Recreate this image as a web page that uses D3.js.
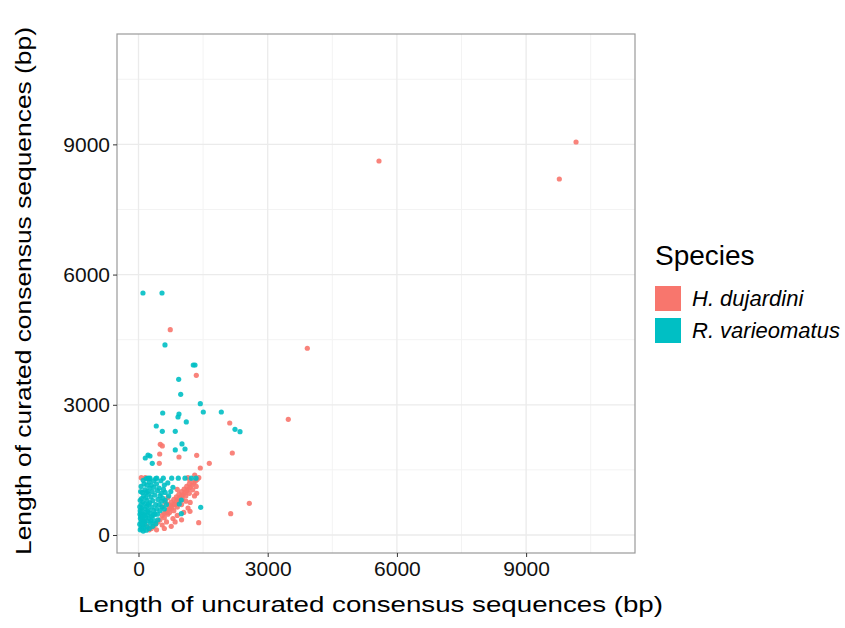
<!DOCTYPE html>
<html><head><meta charset="utf-8">
<script src="https://cdn.jsdelivr.net/npm/d3@7"></script>
<style>body{margin:0;background:#fff;}svg{display:block;font-family:"Liberation Sans",Arial,sans-serif;}</style>
</head><body><svg id="c" width="845" height="628"></svg>
<script>
const speciesNames = ["H. dujardini", "R. varieomatus"];
const speciesColors = ["#F8766D", "#00BFC4"];
const xTicks = [0, 3000, 6000, 9000];
const yTicks = [0, 3000, 6000, 9000];
const minorTicks = [1500, 4500, 7500, 10500];
const xTitle = "Length of uncurated consensus sequences (bp)";
const yTitle = "Length of curated consensus sequences (bp)";
const legendTitle = "Species";

// H. dujardini: [uncurated length, curated length]
const hDujardini = [
 [10159,9055],[9771,8202],[5584,8617],[3920,4302],[3478,2666],[738,4730],[1342,3679],[2118,2580],
 [2178,1889],[506,2090],[553,2051],[492,1866],[940,1797],[1351,1836],[483,1652],[1644,1652],
 [1435,1544],[2573,730],[2141,491],[1398,283],[1305,1382],[1189,1267],[65,1320],[158,1320],
 [1149,1320],[1351,961],[1196,546],
 [550,450],[600,500],[640,520],[680,580],[720,600],[760,660],[800,700],[840,720],[880,780],
 [920,820],[960,860],[1000,900],[1040,930],[1080,980],[1120,1020],[1160,1060],[1200,1100],
 [1240,1150],[1280,1200],[1320,1240],[1360,1280],[1400,1320],[700,700],[760,760],[820,820],
 [880,880],[940,940],[1000,1000],[1060,1060],[1120,1120],[1180,1180],[780,620],[860,700],
 [940,760],[1020,820],[1100,900],[1180,960],[1260,1040],[1340,1120],[680,480],[600,400],
 [720,520],[820,560],[900,640],[1000,700],[1100,780],[500,350],[450,300],[400,250],[350,200],
 [300,150],[420,120],[550,230],[650,300],[800,380],[900,450],[1050,520],[760,200],[600,150],
 [250,120],[200,200],[150,300],[680,860],[620,760],[560,650],[900,1050],[1300,900],[1200,750],
 [1150,620],[850,300],[1000,350]
];
// R. varieomatus: [uncurated length, curated length]
const rVarieomatus = [
 [104,5576],[546,5576],[615,4378],[1272,3917],[1312,3917],[933,3587],[980,3242],[1435,3025],
 [1505,2834],[1923,2834],[562,2811],[940,2788],[917,2719],[1110,2604],[413,2511],[553,2389],
 [854,2389],[2241,2435],[2357,2380],[1010,2097],[1080,1981],[854,1959],[221,1843],[267,1820],
 [158,1774],[320,1652],[1444,638],[994,491],[947,714],[994,806],
 [221,1310],[267,1310],[423,1310],[576,1310],[771,1310],[924,1310],[1080,1310],[1226,1310],[1335,1310],
 [40,120],[60,180],[80,140],[100,220],[120,160],[150,260],[60,300],[90,350],[130,310],[170,400],
 [200,330],[50,420],[110,480],[160,520],[210,460],[250,380],[40,560],[80,620],[140,600],[190,660],
 [230,580],[270,500],[300,420],[60,700],[100,760],[150,720],[200,800],[260,740],[310,640],[350,560],
 [380,480],[70,840],[120,900],[170,860],[230,940],[290,880],[330,790],[400,700],[420,600],[90,980],
 [150,1040],[210,1000],[260,1080],[320,1000],[380,920],[450,820],[480,700],[60,1120],[130,1180],
 [190,1150],[250,1220],[300,1150],[360,1100],[440,1020],[500,900],[540,780],[110,1260],[180,1300],
 [350,1250],[420,1180],[480,1080],[530,960],[560,850],[580,1050],[600,1150],[620,980],[650,700],
 [600,600],[680,1200],[520,1250],[30,250],[45,380],[35,480],[55,520],[70,450],[95,410],[75,260],
 [110,90],[180,110],[250,150],[330,200],[400,260],[450,350],[200,190],[280,270],[360,330],[150,450],
 [220,540],[290,320],[340,450],[230,700],[180,980],[440,480],[500,560],[540,650],[620,800],[700,900],
 [750,1000],[800,1100],[250,1300],[400,1300],[50,1000],[40,800],[30,650]
];

const P = {l:117, r:635, t:34, b:553};
const svg = d3.select("#c");
const x = d3.scaleLinear().domain([-499, 11528]).range([P.l, P.r]);
const y = d3.scaleLinear().domain([-415, 11543]).range([P.b, P.t]);

const g = svg.append("g");
// grid
g.selectAll(".mx").data(minorTicks).join("line").attr("x1", d=>x(d)).attr("x2", d=>x(d))
 .attr("y1", P.t).attr("y2", P.b).attr("stroke", "#f3f3f3").attr("stroke-width", 1);
g.selectAll(".my").data(minorTicks).join("line").attr("y1", d=>y(d)).attr("y2", d=>y(d))
 .attr("x1", P.l).attr("x2", P.r).attr("stroke", "#f3f3f3").attr("stroke-width", 1);
g.selectAll(".Mx").data(xTicks).join("line").attr("x1", d=>x(d)).attr("x2", d=>x(d))
 .attr("y1", P.t).attr("y2", P.b).attr("stroke", "#ebebeb").attr("stroke-width", 1.3);
g.selectAll(".My").data(yTicks).join("line").attr("y1", d=>y(d)).attr("y2", d=>y(d))
 .attr("x1", P.l).attr("x2", P.r).attr("stroke", "#ebebeb").attr("stroke-width", 1.3);

// points
const series = [hDujardini, rVarieomatus];
series.forEach((pts, i) => {
  g.append("g").selectAll("circle").data(pts).join("circle")
   .attr("cx", d=>x(d[0])).attr("cy", d=>y(d[1])).attr("r", 2.6)
   .attr("fill", speciesColors[i]).attr("fill-opacity", 0.9);
});

// panel border
svg.append("rect").attr("x", P.l).attr("y", P.t).attr("width", P.r-P.l).attr("height", P.b-P.t)
 .attr("fill", "none").attr("stroke", "#9a9a9a").attr("stroke-width", 1.2);

// axes
const ax = svg.append("g").attr("transform", `translate(0,${P.b})`)
 .call(d3.axisBottom(x).tickValues(xTicks).tickSize(4).tickPadding(4).tickFormat(d3.format("d")));
const ay = svg.append("g").attr("transform", `translate(${P.l},0)`)
 .call(d3.axisLeft(y).tickValues(yTicks).tickSize(4).tickPadding(3).tickFormat(d3.format("d")));
[ax, ay].forEach(a => {
  a.select(".domain").remove();
  a.selectAll(".tick line").attr("stroke", "#333");
  a.selectAll("text").attr("font-size", 21).attr("fill", "#111")
   .attr("font-family", '"Liberation Sans",Arial,sans-serif');
});

// titles
svg.append("text").attr("x", 78).attr("y", 612).attr("font-size", 22).attr("fill", "#000")
 .attr("textLength", 585).attr("lengthAdjust", "spacingAndGlyphs").text(xTitle);
svg.append("text").attr("transform", "translate(31,555) rotate(-90)").attr("font-size", 22)
 .attr("fill", "#000").attr("textLength", 528).attr("lengthAdjust", "spacingAndGlyphs").text(yTitle);

// legend
const lg = svg.append("g");
lg.append("text").attr("x", 655).attr("y", 265).attr("font-size", 28).attr("fill", "#000").text(legendTitle);
speciesNames.forEach((n, i) => {
  lg.append("rect").attr("x", 655).attr("y", 286 + i*32).attr("width", 26).attr("height", 25)
    .attr("fill", speciesColors[i]);
  lg.append("text").attr("x", 692).attr("y", 306 + i*32).attr("font-size", 22)
    .attr("font-style", "italic").attr("fill", "#000").text(n);
});
</script></body></html>
